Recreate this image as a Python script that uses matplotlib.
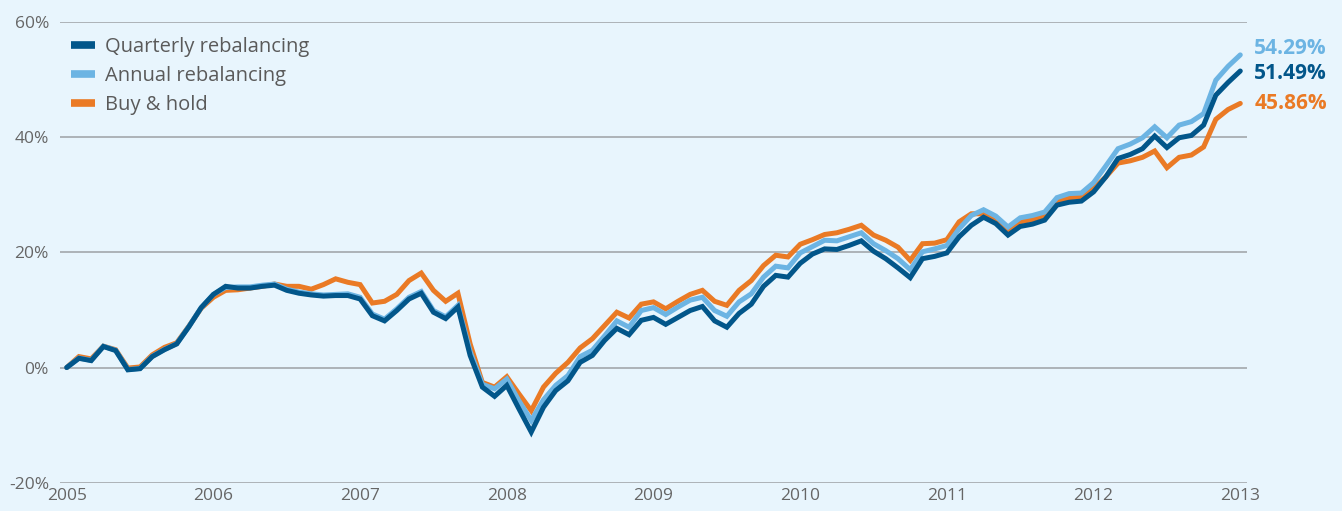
import matplotlib
matplotlib.use("Agg")
import matplotlib.pyplot as plt
from matplotlib.lines import Line2D

plt.rcParams['font.family'] = ['Open Sans', 'DejaVu Sans']

years = ["2005", "2006", "2007", "2008", "2009", "2010", "2011", "2012", "2013"]
y_ticks = [-20, 0, 20, 40, 60]
y_tick_labels = ["-20%", "0%", "20%", "40%", "60%"]

quarterly = [0, 1.6, 1.2, 3.65, 2.95, -0.4, -0.2, 1.9, 3.1, 4.1, 7.1, 10.4,
             12.7, 14.1, 13.8, 13.8, 14.1, 14.3, 13.4, 12.9, 12.6, 12.4, 12.5, 12.5,
             11.9, 9.0, 8.1, 9.9, 11.9, 12.9, 9.6, 8.5, 10.5, 2.1, -3.4, -5.0,
             -3.1, -7.2, -11.2, -6.9, -4.0, -2.3, 0.9, 2.1, 4.7, 6.8, 5.7, 8.2,
             8.7, 7.5, 8.7, 9.9, 10.6, 8.1, 7.0, 9.4, 11.0, 14.1, 16.0, 15.7,
             18.1, 19.7, 20.6, 20.5, 21.2, 22.0, 20.2, 18.9, 17.3, 15.6, 18.9, 19.3,
             19.9, 22.7, 24.7, 26.1, 25.0, 23.0, 24.5, 24.9, 25.6, 28.2, 28.7, 28.9,
             30.5, 33.1, 36.3, 37.0, 38.0, 40.2, 38.2, 39.9, 40.3, 42.1, 47.3, 49.5,
             51.49]

annual = [0, 1.65, 1.25, 3.7, 3.0, -0.35, -0.15, 1.95, 3.15, 4.15, 7.15, 10.4,
          12.7, 13.9, 14.0, 14.0, 14.3, 14.5, 13.6, 13.1, 12.8, 12.6, 12.7, 12.8,
          12.2, 9.3, 8.4, 10.2, 12.2, 13.2, 9.9, 8.8, 10.8, 2.8, -2.9, -3.7,
          -2.0, -5.8, -9.2, -5.6, -3.1, -1.4, 1.9, 3.0, 5.5, 8.1, 7.0, 9.9,
          10.4, 9.2, 10.5, 11.7, 12.2, 9.9, 8.9, 11.4, 12.8, 15.7, 17.6, 17.3,
          19.9, 21.0, 22.1, 22.0, 22.7, 23.4, 21.5, 20.3, 18.9, 17.0, 20.1, 20.6,
          21.2, 24.1, 26.4, 27.4, 26.3, 24.4, 26.0, 26.4, 27.0, 29.5, 30.2, 30.3,
          32.1, 35.0, 38.0, 38.8, 39.9, 41.8, 39.9, 42.1, 42.7, 44.1, 49.9, 52.3,
          54.29]

buy_hold = [0, 1.9, 1.5, 3.7, 3.1, -0.1, 0.1, 2.2, 3.5, 4.3, 7.2, 10.3,
            12.2, 13.4, 13.5, 13.8, 14.1, 14.5, 14.1, 14.1, 13.6, 14.4, 15.4, 14.8,
            14.4, 11.2, 11.5, 12.7, 15.1, 16.4, 13.4, 11.5, 12.9, 4.1, -2.6, -3.4,
            -1.6, -4.6, -7.5, -3.4, -1.0, 0.9, 3.4, 5.0, 7.3, 9.6, 8.6, 11.0,
            11.4, 10.2, 11.5, 12.7, 13.4, 11.5, 10.8, 13.4, 15.1, 17.7, 19.5, 19.2,
            21.4, 22.2, 23.1, 23.4, 24.0, 24.7, 23.0, 22.1, 20.9, 18.6, 21.5, 21.6,
            22.2, 25.3, 26.7, 26.7, 25.6, 23.8, 25.3, 25.7, 26.4, 28.7, 29.5, 29.6,
            31.1, 33.1, 35.5, 35.9, 36.5, 37.6, 34.7, 36.5, 36.9, 38.3, 43.1, 44.8,
            45.86]

end_labels = ["54.29%", "51.49%", "45.86%"]

C_DARK = "#02568a"
C_LIGHT = "#6cb4e3"
C_ORANGE = "#ea7a25"
BG = "#e8f5fd"
GRID = "#a3a8ac"
TXT = "#666666"

fig = plt.figure(figsize=(13.42, 5.11), dpi=100, facecolor=BG)
ax = fig.add_axes([60 / 1342, (511 - 482.7) / 511, (1247 - 60) / 1342, (482.7 - 22) / 511])
ax.set_facecolor(BG)

x = list(range(len(quarterly)))
lw = 3.6
ax.plot(x, buy_hold, color=C_ORANGE, lw=lw, solid_joinstyle='miter', solid_capstyle='round', zorder=3, clip_on=False)
ax.plot(x, annual, color=C_LIGHT, lw=lw, solid_joinstyle='miter', solid_capstyle='round', zorder=4, clip_on=False)
ax.plot(x, quarterly, color=C_DARK, lw=lw, solid_joinstyle='miter', solid_capstyle='round', zorder=5, clip_on=False)

ax.set_xlim(-0.55, 96.55)
ax.set_ylim(-20, 60)
for yv in y_ticks:
    ax.axhline(yv, color=GRID, lw=1.2, zorder=1)

ax.set_yticks(y_ticks)
ax.set_yticklabels(y_tick_labels)
ax.set_xticks([12 * i for i in range(len(years))])
ax.set_xticklabels(years)
ax.tick_params(axis='both', length=0, labelsize=12.5, labelcolor=TXT)
ax.tick_params(axis='y', pad=8)
ax.tick_params(axis='x', pad=4)
for s in ax.spines.values():
    s.set_visible(False)

# end labels
label_y = [55.4, 51.0, 45.86]
label_c = [C_LIGHT, C_DARK, C_ORANGE]
for t, yy, c in zip(end_labels, label_y, label_c):
    ax.annotate(t, xy=(96, yy), xytext=(10, 0), textcoords='offset points',
                color=c, fontsize=15, fontweight='bold', va='center', ha='left',
                annotation_clip=False)

handles = [Line2D([0], [0], color=C_DARK, lw=5.5, solid_capstyle='butt'),
           Line2D([0], [0], color=C_LIGHT, lw=5.5, solid_capstyle='butt'),
           Line2D([0], [0], color=C_ORANGE, lw=5.5, solid_capstyle='butt')]
leg = ax.legend(handles, ["Quarterly rebalancing", "Annual rebalancing", "Buy & hold"],
                loc='upper left', bbox_to_anchor=(-0.0025, 0.998), frameon=False,
                fontsize=14.5, handlelength=1.2, handletextpad=0.5,
                labelspacing=0.45, borderaxespad=0.3)
for t in leg.get_texts():
    t.set_color("#5a5a5a")

fig.savefig("out.png", dpi=100, facecolor=BG)
